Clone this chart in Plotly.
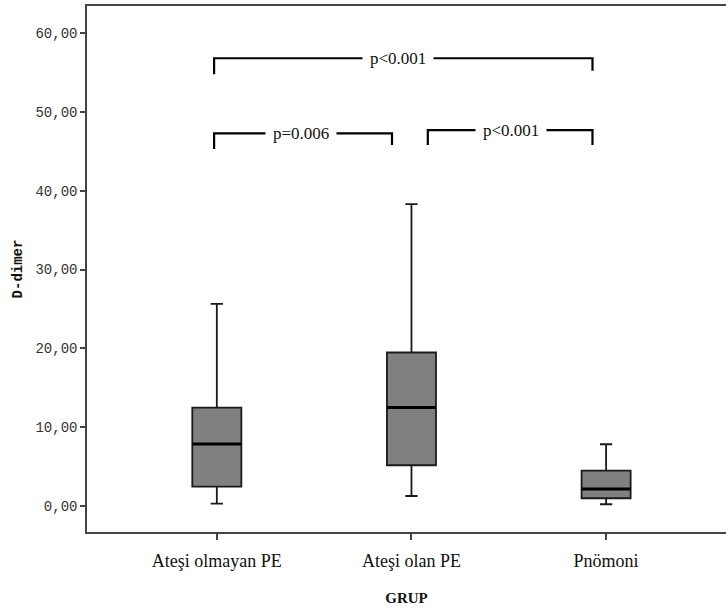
import plotly.graph_objects as go

categories = ["Ateşi olmayan PE", "Ateşi olan PE", "Pnömoni"]
lower_whisker = [0.30, 1.27, 0.22]
q1_values = [2.46, 5.17, 0.98]
median_values = [7.87, 12.49, 2.16]
q3_values = [12.49, 19.47, 4.49]
upper_whisker = [25.64, 38.3, 7.83]

# significance brackets
bracket_from = [0, 1, 0]
bracket_to = [0.9, 1.93, 1.93]
bracket_from_offset = [-0.014, 0.084, -0.014]
bracket_level = [47.27, 47.69, 56.8]
bracket_left_end = [45.3, 45.8, 54.76]
bracket_right_end = [45.8, 45.8, 55.2]
bracket_labels = ["p=0.006", "p&lt;0.001", "p&lt;0.001"]
bracket_label_x = [0.43, 1.51, 0.93]

y_ticks = [0, 10, 20, 30, 40, 50, 60]

box_width = 0.252
xpos = list(range(len(categories)))

fig = go.Figure()
fig.add_trace(go.Box(
    x=xpos,
    q1=q1_values, median=median_values, q3=q3_values,
    lowerfence=lower_whisker, upperfence=upper_whisker,
    width=box_width,
    whiskerwidth=0.25,
    fillcolor="#808080",
    line=dict(color="#1a1a1a", width=1.8),
    boxpoints=False,
    showlegend=False,
    hoverinfo="skip",
))

for i, m in zip(xpos, median_values):
    fig.add_shape(type="line", xref="x", yref="y",
                  x0=i - box_width / 2, x1=i + box_width / 2, y0=m, y1=m,
                  line=dict(color="black", width=3))

for f, off, t, lvl, le, re_, lab, lx in zip(bracket_from, bracket_from_offset, bracket_to,
                                             bracket_level, bracket_left_end, bracket_right_end,
                                             bracket_labels, bracket_label_x):
    x0 = f + off
    fig.add_shape(type="path", xref="x", yref="y",
                  path=f"M {x0} {le} L {x0} {lvl} L {t} {lvl} L {t} {re_}",
                  line=dict(color="black", width=2.2))
    fig.add_annotation(x=lx, y=lvl, xref="x", yref="y", text=lab, showarrow=False,
                       font=dict(family="Liberation Serif", size=17, color="#111"),
                       bgcolor="white", borderpad=7, yanchor="middle")

fig.update_layout(
    width=726, height=610,
    margin=dict(l=87, r=0, t=6, b=78, autoexpand=False),
    plot_bgcolor="white", paper_bgcolor="white",
    separators=",.",
    showlegend=False,
)
fig.update_xaxes(
    range=[-0.667, 2.616],
    tickvals=xpos, ticktext=categories,
    showline=True, linecolor="#444", linewidth=1.5, mirror=True,
    ticks="outside", ticklen=6, tickcolor="#444", tickwidth=1.5,
    showgrid=False, zeroline=False,
    ticklabelstandoff=6,
    tickfont=dict(family="Liberation Serif", size=18, color="#111"),
    title=dict(text="<b>GRUP</b>", font=dict(family="Liberation Serif", size=15, color="#111"), standoff=22),
    automargin=False,
)
fig.update_yaxes(
    range=[-3.3, 63.43],
    tickvals=y_ticks, tickformat=".2f",
    showline=True, linecolor="#444", linewidth=1.5, mirror=False,
    ticks="outside", ticklen=5, tickcolor="#444", tickwidth=1.5,
    showgrid=False, zeroline=False,
    tickfont=dict(family="Liberation Mono", size=14, color="#333"),
    title=dict(text="<b>D-dimer</b>", font=dict(family="Liberation Mono", size=14, color="#111"), standoff=10),
    automargin=False,
)

fig.write_html("out.html", config={"displayModeBar": False},
               post_script="document.body.style.margin='0';document.body.style.overflow='hidden';")
